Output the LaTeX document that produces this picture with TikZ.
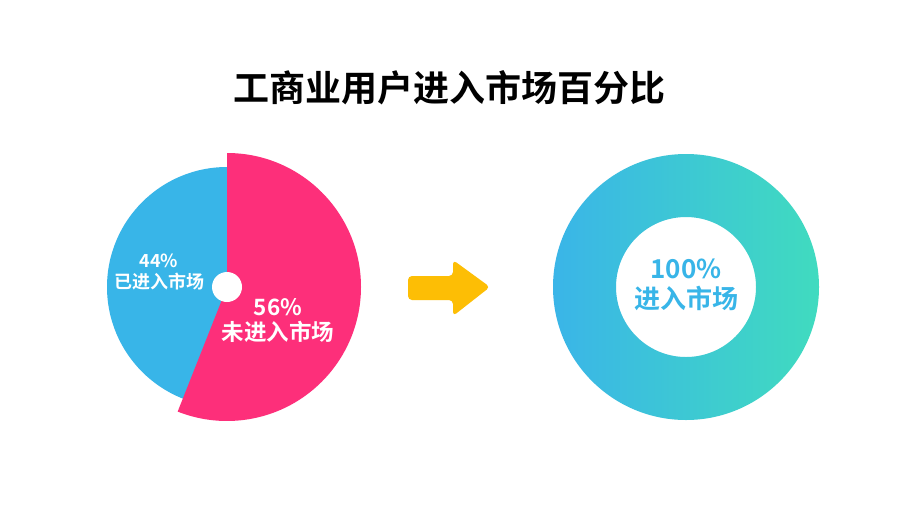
\documentclass[tikz,border=0pt]{standalone}
\usepackage{fontspec}
\newfontfamily\cjk{Noto Sans CJK SC}
\newfontfamily\cjkb{Noto Sans CJK SC Bold}
\usetikzlibrary{shadings}
\definecolor{pblue}{HTML}{38B5E8}
\definecolor{ppink}{HTML}{FD2F7A}
\definecolor{gyel}{HTML}{FDBE05}
\definecolor{gl}{HTML}{3AB5E8}
\definecolor{gr}{HTML}{40DBBF}
\begin{document}
\begin{tikzpicture}[x=1pt,y=-1pt,lbl/.style={text=white,font=\cjkb,align=center,inner sep=0pt}]
\useasboundingbox (0,0) rectangle (899,504);
\fill[white] (0,0) rectangle (899,504);
\node[font=\cjkb\fontsize{36}{40}\selectfont,inner sep=0pt] (title) at (449,88) {工商业用户进入市场百分比};
% pie
\coordinate (c) at (227,287);
\fill[pblue] (c) circle[radius=120];
\fill[ppink] (c) -- ++(0,-134) arc[start angle=-90,end angle=111.6,radius=134] -- cycle;
\fill[white] (c) circle[radius=15];
\node[lbl,font=\cjkb\fontsize{18}{21}\selectfont] (l1) at (159,272) {44\%\\已进入市场};
\node[lbl,font=\cjkb\fontsize{22.5}{25}\selectfont] (l2) at (278,321) {56\%\\未进入市场};
% arrow
\fill[gyel,rounded corners=4pt] (408,276) -- (453,276) -- (453,260) -- (490,287) -- (453,316) -- (453,300) -- (408,300) -- cycle;
% ring
\coordinate (r) at (686,287);
\shade[left color=gl,right color=gr,even odd rule] (r) circle[radius=133] (r) circle[radius=70];
\node[text=pblue,font=\cjkb\fontsize{26}{30}\selectfont,align=center,inner sep=0pt] (l3) at (686,285) {100\%\\进入市场};
\end{tikzpicture}
\end{document}
